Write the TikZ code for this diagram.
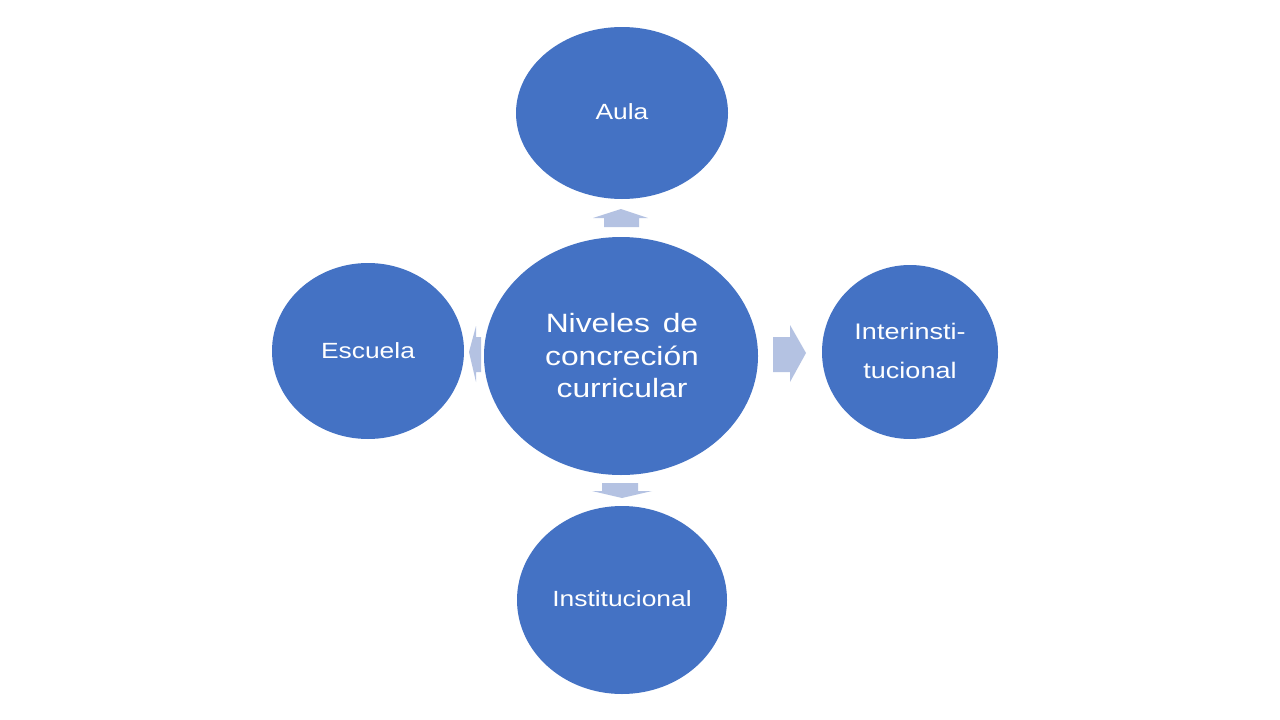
\documentclass[tikz,border=0pt]{standalone}
\usepackage{fontspec}
\setmainfont{Liberation Sans}[FakeStretch=1.2]
\definecolor{ellblue}{HTML}{4472C4}
\definecolor{arrblue}{HTML}{B4C2E2}
\begin{document}
\begin{tikzpicture}[x=1pt,y=-1pt,
  lbl/.style={text=white, align=center, inner sep=0pt},
  blockarrow/.style={fill=arrblue, draw=none}]
\useasboundingbox (0,0) rectangle (1280,720);
\fill[white] (0,0) rectangle (1280,720);
% ellipses
\fill[ellblue] (621,356) ellipse [x radius=137, y radius=119];
\fill[ellblue] (622,113) ellipse [x radius=106, y radius=86];
\fill[ellblue] (622,600) ellipse [x radius=105, y radius=94];
\fill[ellblue] (368,351) ellipse [x radius=96, y radius=88];
\fill[ellblue] (910,352) ellipse [x radius=88, y radius=87];
% labels
\node[lbl, font=\fontsize{26.5}{32.5}\selectfont] (center) at (622,356) {Niveles\hspace{0.15em} de\\concreción\\curricular};
\node[lbl, font=\fontsize{22}{26}\selectfont] (aula) at (622,112) {Aula};
\node[lbl, font=\fontsize{22}{26}\selectfont] (inst) at (622,599) {Institucional};
\node[lbl, font=\fontsize{22}{26}\selectfont] (esc) at (368,351) {Escuela};
\node[lbl, font=\fontsize{22.5}{39}\selectfont] (inter) at (910,351) {Interinsti-\\tucional};
% block arrows
\fill[blockarrow] (604,227) -- (604,218) -- (593,218) -- (621,209) -- (648,218) -- (639,218) -- (639,227) -- cycle;
\fill[blockarrow] (773,337) -- (790,337) -- (790,325) -- (806,353) -- (790,382) -- (790,372) -- (773,372) -- cycle;
\fill[blockarrow] (481,337) -- (476,337) -- (476,326) -- (469,352) -- (476,382) -- (476,372) -- (481,372) -- cycle;
\fill[blockarrow] (602,483) -- (638,483) -- (638,491) -- (652,491) -- (622,498) -- (592,491) -- (602,491) -- cycle;
\end{tikzpicture}
\end{document}
